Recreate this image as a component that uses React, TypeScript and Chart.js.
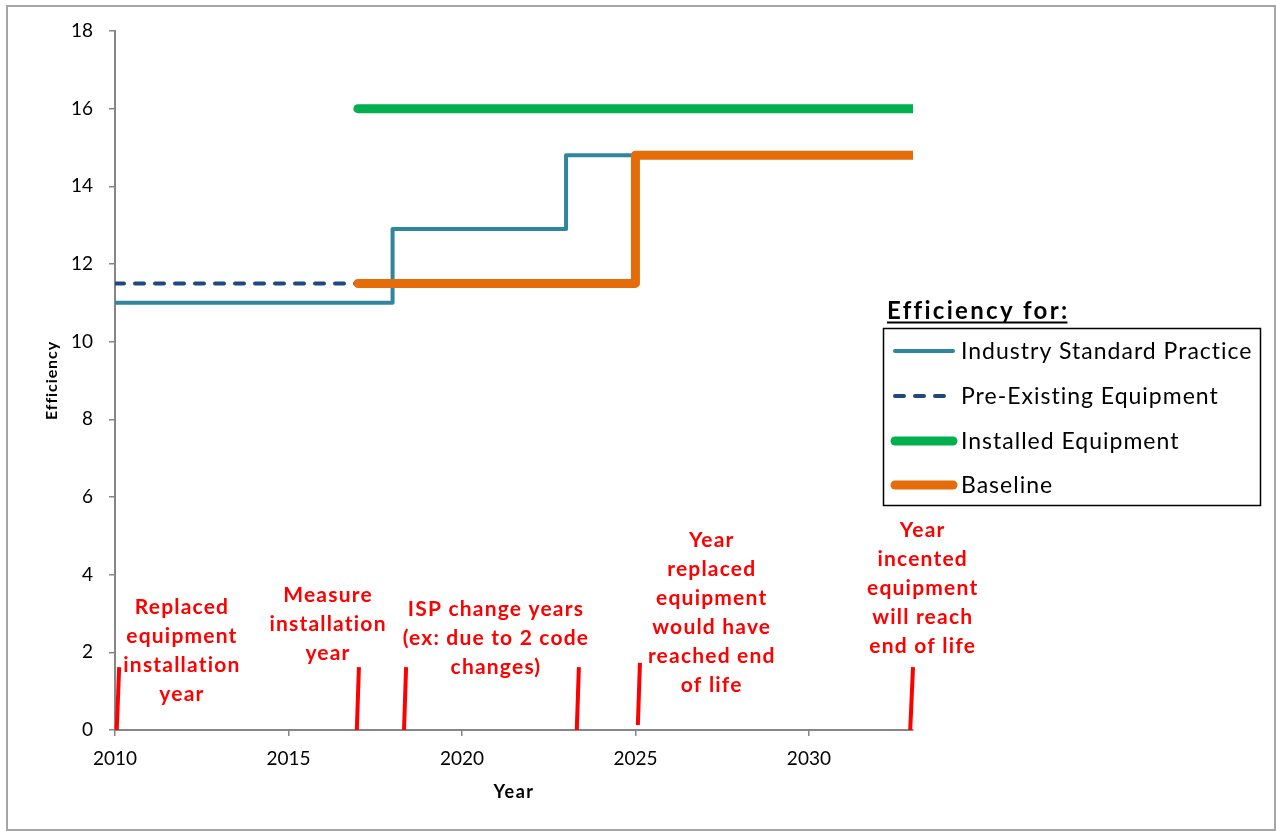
import React, { useEffect, useRef } from "react";
import { Chart, registerables } from "chart.js";

Chart.register(...registerables);

const W = 1276;
const H = 831;
const FONT = 'Lato, "Open Sans", sans-serif';

// ---- data ----
const xMin = 2010;
const xMax = 2033;
const yMin = 0;
const yMax = 18;

const ispYears = [2010, 2018, 2023, 2025];
const ispValues = [11, 12.9, 14.8, 14.8];

const preYears = [2010, 2017];
const preValues = [11.5, 11.5];

const installedYears = [2017, 2033];
const installedValues = [16, 16];

const baselineYears = [2017, 2025, 2033];
const baselineValues = [11.5, 14.8, 14.8];

// red year markers (bottom point, top point)
const markerYears = [
  [2010.05, 2010.12],
  [2016.97, 2017.03],
  [2018.33, 2018.39],
  [2023.31, 2023.37],
  [2025.07, 2025.13],
  [2032.92, 2033.0],
];
const markerValues = [
  [0, 1.62],
  [0, 1.62],
  [0, 1.62],
  [0, 1.62],
  [0.13, 1.73],
  [0, 1.62],
];

const annotationLines = [
  ["Replaced", "equipment", "installation", "year"],
  ["Measure", "installation", "year"],
  ["ISP change years", "(ex: due to 2 code", "changes)"],
  ["Year", "replaced", "equipment", "would have", "reached end", "of life"],
  ["Year", "incented", "equipment", "will reach", "end of life"],
];
const annotationYears = [2011.93, 2016.14, 2020.98, 2027.2, 2033.28];
const annotationValues = [3.17, 3.48, 3.12, 4.89, 5.15];

const seriesLabels = [
  "Industry Standard Practice",
  "Pre-Existing Equipment",
  "Installed Equipment",
  "Baseline",
];
const seriesColors = ["#31859C", "#1F497D", "#00B050", "#E46C0A"];
const legendTitle = "Efficiency for:";
const xTitle = "Year";
const yTitle = "Efficiency";

const toPoints = (xs: number[], ys: number[]) => xs.map((x, i) => ({ x, y: ys[i] }));

const setSpacing = (ctx: any, v: string) => {
  try {
    ctx.letterSpacing = v;
  } catch (e) {}
};

const decoPlugin = {
  id: "deco",
  beforeDraw(chart: any) {
    const ctx = chart.ctx;
    ctx.save();
    ctx.fillStyle = "#ffffff";
    ctx.fillRect(0, 0, W, H);
    ctx.strokeStyle = "#A6A6A6";
    ctx.lineWidth = 2;
    ctx.strokeRect(7, 6, 1268, 824);
    ctx.restore();
  },
  afterDraw(chart: any) {
    const { ctx, chartArea, scales } = chart;
    const xs = scales.x;
    const ys = scales.y;
    ctx.save();

    // axis titles
    ctx.fillStyle = "#000";
    ctx.textAlign = "center";
    ctx.textBaseline = "middle";
    ctx.font = `bold 18px ${FONT}`;
    setSpacing(ctx, "1.5px");
    ctx.fillText(xTitle, (chartArea.left + chartArea.right) / 2, chartArea.bottom + 62);
    ctx.save();
    ctx.translate(chartArea.left - 63, (chartArea.top + chartArea.bottom) / 2);
    ctx.rotate(-Math.PI / 2);
    ctx.font = `bold 16px ${FONT}`;
    setSpacing(ctx, "0.9px");
    ctx.fillText(yTitle, 0, 0);
    ctx.restore();

    // annotations
    ctx.fillStyle = "#FF0000";
    ctx.font = `bold 21px ${FONT}`;
    setSpacing(ctx, "1.2px");
    annotationLines.forEach((lines, i) => {
      const cx = xs.getPixelForValue(annotationYears[i]);
      const cy = ys.getPixelForValue(annotationValues[i]);
      lines.forEach((t, j) => ctx.fillText(t, cx, cy + j * 29));
    });

    // legend title
    ctx.fillStyle = "#000";
    ctx.textAlign = "left";
    ctx.textBaseline = "alphabetic";
    ctx.font = `bold 24px ${FONT}`;
    setSpacing(ctx, "2.3px");
    const tx = 887;
    const ty = 319;
    ctx.fillText(legendTitle, tx, ty);
    const tw = ctx.measureText(legendTitle).width - 2;
    ctx.fillRect(tx, ty + 2.5, tw, 2);

    // legend box
    ctx.strokeStyle = "#000";
    ctx.lineWidth = 1.5;
    ctx.strokeRect(883.5, 328.5, 377, 177);

    const rowsY = [351, 396, 441, 485];
    ctx.font = `23px ${FONT}`;
    setSpacing(ctx, "1px");
    ctx.textBaseline = "middle";
    seriesLabels.forEach((label, i) => {
      const ds = chart.data.datasets.find((d: any) => d.label === label);
      ctx.save();
      ctx.strokeStyle = seriesColors[i];
      ctx.lineWidth = ds ? ds.borderWidth : 4;
      ctx.lineCap = "round";
      const dashed = !!(ds && ds.borderDash);
      ctx.setLineDash(dashed ? ds.borderDash : []);
      ctx.beginPath();
      ctx.moveTo(895, rowsY[i]);
      ctx.lineTo(dashed ? 948 : 953, rowsY[i]);
      ctx.stroke();
      ctx.restore();
      ctx.fillStyle = "#000";
      ctx.fillText(label, 961, rowsY[i] + 1);
    });

    ctx.restore();
  },
};

export default function App() {
  const ref = useRef<HTMLCanvasElement | null>(null);
  useEffect(() => {
    if (!ref.current) return;
    const markerSets = markerYears.map((xs, i) => ({
      label: "marker" + i,
      data: toPoints(xs, markerValues[i]),
      borderColor: "#FF0000",
      borderWidth: 4,
      borderCapStyle: "butt",
      pointRadius: 0,
      fill: false,
      clip: false as any,
    }));
    const chart = new Chart(ref.current, {
      type: "line",
      data: {
        datasets: [
          {
            label: seriesLabels[3],
            data: toPoints(baselineYears, baselineValues),
            borderColor: seriesColors[3],
            borderWidth: 9,
            stepped: "before",
            borderCapStyle: "round",
            borderJoinStyle: "round",
            pointRadius: 0,
          },
          {
            label: seriesLabels[2],
            data: toPoints(installedYears, installedValues),
            borderColor: seriesColors[2],
            borderWidth: 9,
            borderCapStyle: "round",
            pointRadius: 0,
          },
          {
            label: seriesLabels[1],
            data: toPoints(preYears, preValues),
            borderColor: seriesColors[1],
            borderWidth: 4,
            borderDash: [9, 11],
            borderCapStyle: "round",
            pointRadius: 0,
          },
          {
            label: seriesLabels[0],
            data: toPoints(ispYears, ispValues),
            borderColor: seriesColors[0],
            borderWidth: 4,
            stepped: "before",
            borderJoinStyle: "round",
            pointRadius: 0,
          },
          ...markerSets,
        ] as any,
      },
      options: {
        responsive: false,
        animation: false,
        devicePixelRatio: 1,
        layout: { padding: { top: 31, right: 363, left: 0, bottom: 0 } },
        plugins: {
          legend: { display: false },
          tooltip: { enabled: false },
          title: { display: false },
        },
        scales: {
          x: {
            type: "linear",
            min: xMin,
            max: xMax,
            afterFit: (s: any) => {
              s.height = 101;
            },
            ticks: {
              stepSize: 5,
              includeBounds: false,
              color: "#000",
              font: { family: FONT, size: 19 },
              padding: 11,
              maxRotation: 0,
              callback: (v: any) => String(v),
            },
            grid: {
              display: true,
              drawOnChartArea: false,
              drawTicks: true,
              tickLength: 6,
              color: "#868686",
              lineWidth: 1.5,
            },
            border: { display: true, color: "#868686", width: 2 },
          },
          y: {
            type: "linear",
            min: yMin,
            max: yMax,
            afterFit: (s: any) => {
              s.width = 115;
            },
            ticks: {
              stepSize: 2,
              color: "#000",
              font: { family: FONT, size: 19 },
              padding: 16,
              callback: (v: any) => String(v),
            },
            grid: {
              display: true,
              drawOnChartArea: false,
              drawTicks: true,
              tickLength: 6,
              color: "#868686",
              lineWidth: 1.5,
            },
            border: { display: true, color: "#868686", width: 2 },
          },
        },
      } as any,
      plugins: [decoPlugin],
    });
    return () => chart.destroy();
  }, []);
  return (
    <div style={{ position: "fixed", left: 0, top: 0, width: W, height: H }}>
      <canvas ref={ref} width={W} height={H} style={{ display: "block", width: W, height: H }} />
    </div>
  );
}
